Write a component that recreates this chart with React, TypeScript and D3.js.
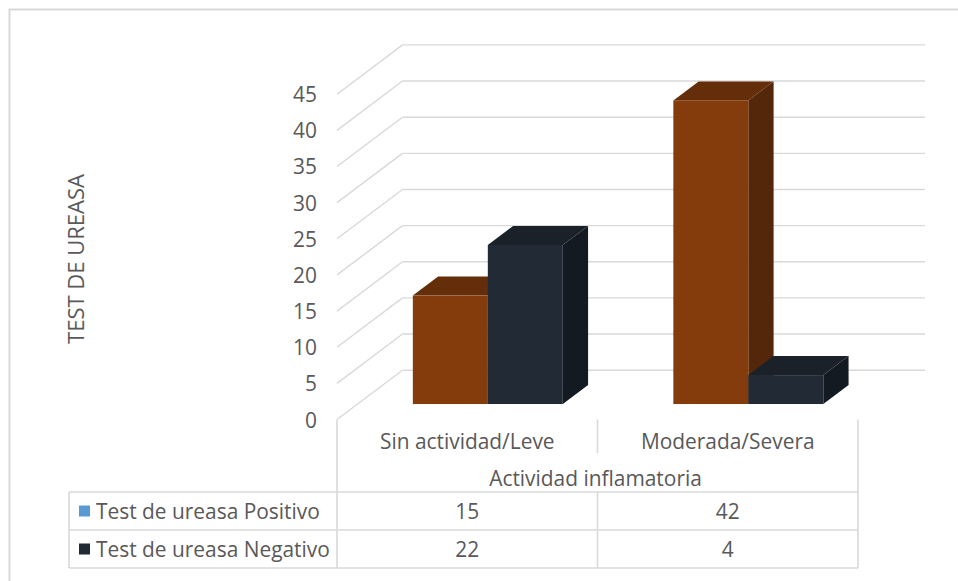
import React from "react";
import * as d3 from "d3";

// ---- data ----
const categories = ["Sin actividad/Leve", "Moderada/Severa"];
const seriesNames = ["Test de ureasa Positivo", "Test de ureasa Negativo"];
const positivo = [15, 42];
const negativo = [22, 4];
const yTicks = [0, 5, 10, 15, 20, 25, 30, 35, 40, 45];
const axisTitle = "TEST DE UREASA";
const categoryTitle = "Actividad inflamatoria";

// ---- styling ----
const W = 958;
const H = 581;
const FONT = "'Open Sans', 'Noto Sans', sans-serif";
const FS = 20.9;
const TEXT = "#595959";
const GRID = "#d9d9d9";

const seriesFaces = [
  { front: "#843c0c", top: "#652e0a", side: "#55270a", swatch: "#5b9bd5" },
  { front: "#222a35", top: "#1b2129", side: "#141a22", swatch: "#222a35" },
];

// ---- 3D geometry (oblique projection) ----
const FLOOR_Y = 419.5;
const FRONT_X0 = 337;
const FRONT_X1 = 858;
const DEPTH_DX = 65.5;
const DEPTH_DY = -49.3;
const BAR_D0 = 0.314;
const BAR_D1 = 0.7;

const yScale = d3.scaleLinear().domain([0, 45]).range([0, 325.3]);
const xBand = d3.scaleBand<string>().domain(categories).range([FRONT_X0, FRONT_X1]);
const xInner = d3
  .scaleBand<string>()
  .domain(seriesNames)
  .range([0, xBand.bandwidth()])
  .paddingOuter(0.737);

const project = (x: number, h: number, d: number): [number, number] => [
  x + d * DEPTH_DX,
  FLOOR_Y - h + d * DEPTH_DY,
];
const poly = (pts: [number, number][]) => pts.map((p) => p.join(",")).join(" ");

// table geometry
const TABLE_LEFT = 69;
const COL_MID = xBand(categories[1]) as number;
const ROW_TOP = 492;
const ROW_MID = 530;
const ROW_BOT = 568;

export default function App() {
  const values = [positivo, negativo];

  const bars: JSX.Element[] = [];
  categories.forEach((cat, ci) => {
    seriesNames.forEach((s, si) => {
      const v = values[si][ci];
      const h = yScale(v);
      const x0 = (xBand(cat) as number) + (xInner(s) as number);
      const x1 = x0 + xInner.bandwidth();
      const c = seriesFaces[si];
      const [fx0, fy0] = project(x0, 0, BAR_D0);
      const [fx1, fyTop] = project(x1, h, BAR_D0);
      bars.push(
        <g key={`${cat}-${s}`}>
          <polygon
            points={poly([
              project(x1, 0, BAR_D0),
              project(x1, h, BAR_D0),
              project(x1, h, BAR_D1),
              project(x1, 0, BAR_D1),
            ])}
            fill={c.side}
          />
          <polygon
            points={poly([
              project(x0, h, BAR_D0),
              project(x1, h, BAR_D0),
              project(x1, h, BAR_D1),
              project(x0, h, BAR_D1),
            ])}
            fill={c.top}
          />
          <rect x={fx0} y={fyTop} width={fx1 - fx0} height={fy0 - fyTop} fill={c.front} />
        </g>
      );
    });
  });

  const catCenter = (c: string) => (xBand(c) as number) + xBand.bandwidth() / 2;

  return (
    <svg
      width={W}
      height={H}
      style={{ position: "absolute", left: 0, top: 0, background: "#fff" }}
      fontFamily={FONT}
    >
      <rect x={0} y={0} width={W} height={H} fill="#fff" />
      {/* chart frame */}
      <rect x={9.5} y={9.5} width={W + 20} height={H + 20} fill="none" stroke={GRID} strokeWidth={2} />

      {/* back wall + side wall gridlines */}
      {yTicks.map((t) => {
        const h = yScale(t);
        const [bx0, by] = project(FRONT_X0, h, 1);
        const [bx1] = project(FRONT_X1 + 1.5, h, 1);
        const [fx, fy] = project(FRONT_X0, h, 0);
        return (
          <g key={t} stroke={GRID} strokeWidth={1.4} fill="none">
            <line x1={bx0} y1={by} x2={bx1} y2={by} />
            <line x1={fx} y1={fy} x2={bx0} y2={by} />
          </g>
        );
      })}

      {/* y tick labels */}
      {yTicks.map((t) => {
        const [, fy] = project(FRONT_X0, yScale(t), 0);
        return (
          <text
            key={t}
            x={317}
            y={fy}
            textAnchor="end"
            dominantBaseline="central"
            fontSize={FS}
            fill={TEXT}
          >
            {t}
          </text>
        );
      })}

      {/* axis title */}
      <text
        transform="translate(75,259) rotate(-90)"
        textAnchor="middle"
        dominantBaseline="central"
        fontSize={22}
        fill={TEXT}
      >
        {axisTitle}
      </text>

      {/* bars */}
      {bars}

      {/* data table */}
      <g stroke={GRID} strokeWidth={1.6} fill="none">
        <line x1={FRONT_X0} y1={FLOOR_Y} x2={FRONT_X0} y2={ROW_BOT} />
        <line x1={FRONT_X1} y1={FLOOR_Y} x2={FRONT_X1} y2={ROW_BOT} />
        <line x1={COL_MID} y1={FLOOR_Y} x2={COL_MID} y2={453} />
        <line x1={COL_MID} y1={ROW_TOP} x2={COL_MID} y2={ROW_BOT} />
        <line x1={TABLE_LEFT} y1={ROW_TOP} x2={FRONT_X1} y2={ROW_TOP} />
        <line x1={TABLE_LEFT} y1={ROW_MID} x2={FRONT_X1} y2={ROW_MID} />
        <line x1={TABLE_LEFT} y1={ROW_BOT} x2={FRONT_X1} y2={ROW_BOT} />
        <line x1={TABLE_LEFT} y1={ROW_TOP} x2={TABLE_LEFT} y2={ROW_BOT} />
      </g>

      {categories.map((c) => (
        <text
          key={c}
          x={catCenter(c)}
          y={441}
          textAnchor="middle"
          dominantBaseline="central"
          fontSize={FS}
          fill={TEXT}
        >
          {c}
        </text>
      ))}
      <text
        x={(FRONT_X0 + FRONT_X1) / 2 - 2}
        y={478}
        textAnchor="middle"
        dominantBaseline="central"
        fontSize={FS}
        fill={TEXT}
      >
        {categoryTitle}
      </text>

      {seriesNames.map((s, si) => {
        const cy = si === 0 ? (ROW_TOP + ROW_MID) / 2 : (ROW_MID + ROW_BOT) / 2;
        return (
          <g key={s}>
            <rect x={79} y={cy - 5.5} width={11} height={11} fill={seriesFaces[si].swatch} />
            <text x={96} y={cy} dominantBaseline="central" fontSize={FS} fill={TEXT}>
              {s}
            </text>
            {categories.map((c, ci) => (
              <text
                key={c}
                x={catCenter(c)}
                y={cy}
                textAnchor="middle"
                dominantBaseline="central"
                fontSize={FS}
                fill={TEXT}
              >
                {values[si][ci]}
              </text>
            ))}
          </g>
        );
      })}
    </svg>
  );
}
